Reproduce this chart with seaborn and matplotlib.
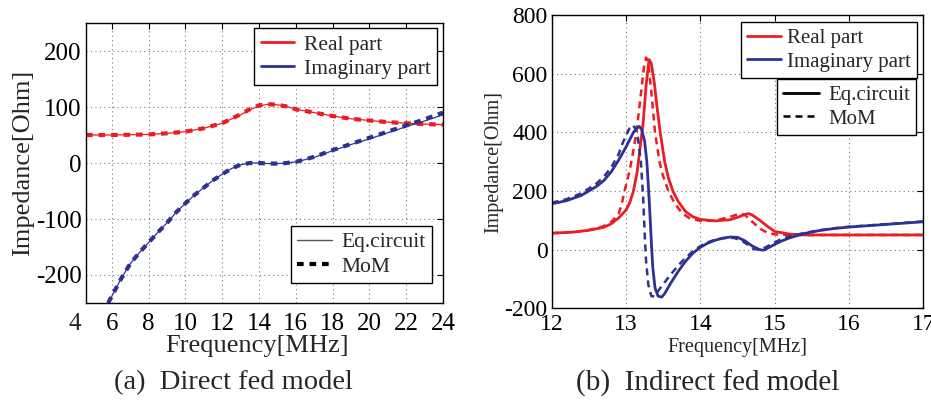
import numpy as np
import pandas as pd
import matplotlib
matplotlib.use("Agg")
import matplotlib.pyplot as plt
from matplotlib.lines import Line2D
import seaborn as sns

# (a) direct fed model
a_real_f = [4.6, 6, 7, 8, 9, 10, 11, 12, 13, 13.5, 14, 14.5, 15, 15.5, 16, 17, 18, 19, 20, 21, 22, 23, 24]
a_real_eq = [50, 50, 50.5, 51, 53, 56, 62, 71, 86, 95, 102, 105, 104, 101, 96, 90, 84, 79, 76, 73, 71, 69.5, 68.5]
a_real_mom = [50, 50, 50.5, 51, 53, 56, 62, 71, 87, 96, 103, 105, 104, 101, 96, 90, 84, 79, 76, 73, 71, 69.5, 68.5]
a_imag_f = [5.8, 6, 6.5, 7, 7.5, 8, 8.5, 9, 9.5, 10, 10.5, 11, 11.5, 12, 12.5, 13, 13.5,
            14, 14.5, 15, 15.5, 16, 17, 18, 19, 20, 21, 22, 23, 24]
a_imag_eq = [-250, -238, -207, -180, -160, -142, -124, -107, -88, -72, -57, -44, -31, -20, -10, -3, 0,
             0, -1, -1, 0, 2, 10, 22, 33, 43, 54, 65, 75, 86]
a_imag_mom = [-250, -238, -207, -180, -160, -142, -124, -107, -88, -72, -57, -44, -31, -20, -10, -3, 0,
              0, -1, -1, 0, 2, 11, 23, 34, 45, 56, 67, 78, 90]

# (b) indirect fed model
b_real_eq_f = [12, 12.3, 12.5, 12.7, 12.8, 12.9, 13.0, 13.05, 13.1, 13.15, 13.2, 13.23, 13.27, 13.31,
               13.34, 13.38, 13.42, 13.46, 13.52, 13.57, 13.63, 13.7, 13.8, 13.9, 14.0, 14.2, 14.4,
               14.5, 14.6, 14.65, 14.7, 14.8, 14.9, 15.0, 15.2, 15.4, 16, 17]
b_real_eq = [56, 60, 66, 76, 88, 108, 135, 160, 200, 265, 370, 430, 560, 648,
             635, 570, 480, 400, 300, 245, 200, 165, 130, 112, 103, 98, 102,
             110, 120, 123, 118, 100, 80, 62, 53, 50, 50, 50]
b_real_mom_f = [12, 12.3, 12.5, 12.7, 12.8, 12.9, 12.95, 12.98, 13.05, 13.1, 13.14, 13.2, 13.24, 13.27,
                13.3, 13.34, 13.39, 13.45, 13.5, 13.57, 13.65, 13.75, 13.85, 14.0, 14.2, 14.4,
                14.5, 14.55, 14.6, 14.7, 14.8, 14.9, 15.0, 15.2, 15.4, 16, 17]
b_real_mom = [56, 60, 67, 80, 95, 120, 165, 200, 270, 340, 400, 530, 620, 655,
              635, 540, 400, 300, 250, 200, 160, 125, 108, 98, 99, 112,
              120, 123, 118, 95, 72, 58, 52, 50, 50, 50, 50]
b_imag_eq_f = [12, 12.2, 12.4, 12.6, 12.7, 12.8, 12.9, 13.0, 13.05, 13.1, 13.15, 13.18, 13.21, 13.25,
               13.28, 13.3, 13.32, 13.34, 13.36, 13.39, 13.43, 13.48, 13.52, 13.6, 13.7, 13.8, 13.9,
               14.0, 14.1, 14.2, 14.3, 14.4, 14.5, 14.6, 14.7, 14.8, 14.85, 14.9, 15.0, 15.1, 15.2,
               15.4, 15.6, 15.8, 16, 16.5, 17]
b_imag_eq = [156, 167, 185, 215, 235, 265, 305, 350, 375, 400, 415, 420, 410, 370,
             300, 220, 130, 30, -60, -130, -158, -162, -150, -115, -75, -40, -12,
             8, 22, 32, 39, 43, 42, 30, 12, 0, -2, 4, 18, 30, 40,
             55, 65, 72, 77, 86, 95]
b_imag_mom_f = [12, 12.2, 12.4, 12.6, 12.7, 12.8, 12.9, 12.95, 13.0, 13.05, 13.09, 13.12, 13.16, 13.2,
                13.23, 13.25, 13.27, 13.3, 13.34, 13.38, 13.42, 13.5, 13.6, 13.7, 13.8, 13.9,
                14.0, 14.1, 14.2, 14.3, 14.45, 14.55, 14.65, 14.72, 14.8, 14.88, 15.0, 15.1, 15.2,
                15.4, 15.6, 15.8, 16, 16.5, 17]
b_imag_mom = [160, 172, 192, 225, 248, 280, 325, 360, 390, 415, 425, 415, 380, 300,
              180, 60, -40, -120, -158, -160, -145, -118, -85, -55, -28, -6,
              12, 25, 34, 39, 40, 32, 15, 2, 0, 8, 25, 37, 45,
              57, 66, 73, 78, 87, 96]

RED = "#ec1c24"
BLUE = "#2e3192"
SERIF = ["Liberation Serif", "DejaVu Serif"]

sns.set_style("white")
plt.rcParams["font.family"] = SERIF
plt.rcParams["axes.unicode_minus"] = False

fig = plt.figure(figsize=(9.31, 4.01), dpi=100)
ax1 = fig.add_axes([0.0924, 0.2444, 0.3834, 0.6982])
ax2 = fig.add_axes([0.5926, 0.2312, 0.3991, 0.7314])


def style_axes(ax, fs, xpad, ypad):
    ax.grid(True, linestyle=(0, (1, 3)), color="#777777", linewidth=0.8)
    ax.tick_params(direction="in", length=4, width=0.8, top=True, right=True,
                   labelsize=fs, colors="black")
    ax.tick_params(axis="x", pad=xpad)
    ax.tick_params(axis="y", pad=ypad)
    for s in ax.spines.values():
        s.set_color("black")
        s.set_linewidth(1.0)


def make_legend(ax, handles, labels, loc, anchor, fs, hl, htp):
    leg = ax.legend(handles, labels, loc=loc, bbox_to_anchor=anchor,
                    bbox_transform=fig.transFigure, fontsize=fs, frameon=True,
                    fancybox=False, edgecolor="black", framealpha=1,
                    handlelength=hl, handletextpad=htp, borderpad=0.3,
                    labelspacing=0.2, borderaxespad=0)
    leg.get_frame().set_linewidth(1.0)
    return leg


# ---- panel (a)
thin = dict(lw=0.9, linestyle="-")
thick = dict(lw=3.0, linestyle=(0, (1.6, 1.4)))
sns.lineplot(x=a_real_f, y=a_real_eq, color=RED, ax=ax1, **thin)
sns.lineplot(x=a_real_f, y=a_real_mom, color=RED, ax=ax1, **thick)
sns.lineplot(x=a_imag_f, y=a_imag_eq, color=BLUE, ax=ax1, **thin)
sns.lineplot(x=a_imag_f, y=a_imag_mom, color=BLUE, ax=ax1, **thick)
ax1.set_xlim(4.6, 24)
ax1.set_ylim(-250, 250)
ax1.set_xticks(range(6, 25, 2))
ax1.set_yticks([-200, -100, 0, 100, 200])
style_axes(ax1, 18, 7, 3)
ax1.text(4, -0.037, "4", transform=ax1.get_xaxis_transform(), ha="center", va="top",
         fontsize=18, clip_on=False)
ax1.set_xlabel("Frequency[MHz]", fontsize=19)
ax1.set_ylabel("Impedance[Ohm]", fontsize=19)
ax1.xaxis.set_label_coords(0.48, -0.115)
ax1.yaxis.set_label_coords(-0.145, 0.5)

h_parts = [Line2D([], [], color=RED, lw=2), Line2D([], [], color=BLUE, lw=2)]
leg1 = make_legend(ax1, h_parts, ["Real part", "Imaginary part"], "upper right",
                   (0.4694, 0.930), 15.5, 1.55, 0.45)
ax1.add_artist(leg1)
h_meth = [Line2D([], [], color="#555555", lw=1.0),
          Line2D([], [], color="black", lw=3.0, linestyle=(0, (1.6, 1.4)))]
make_legend(ax1, h_meth, ["Eq.circuit", "MoM"], "lower right",
            (0.464, 0.294), 15.5, 1.6, 0.45)

# ---- panel (b)
solid = dict(lw=2.0, linestyle="-")
dash = dict(lw=1.8, linestyle=(0, (2.8, 2.0)))
sns.lineplot(x=b_real_eq_f, y=b_real_eq, color=RED, ax=ax2, **solid)
sns.lineplot(x=b_real_mom_f, y=b_real_mom, color=RED, ax=ax2, **dash)
sns.lineplot(x=b_imag_eq_f, y=b_imag_eq, color=BLUE, ax=ax2, **solid)
sns.lineplot(x=b_imag_mom_f, y=b_imag_mom, color=BLUE, ax=ax2, **dash)
ax2.set_xlim(12, 17)
ax2.set_ylim(-200, 800)
ax2.set_xticks(range(12, 18))
ax2.set_yticks(range(-200, 801, 200))
style_axes(ax2, 17, 4, 3)
ax2.set_xlabel("Frequency[MHz]", fontsize=14.5)
ax2.set_ylabel("Impedance[Ohm]", fontsize=14.5)
ax2.xaxis.set_label_coords(0.5, -0.1)
ax2.yaxis.set_label_coords(-0.13, 0.5)

leg3 = make_legend(ax2, h_parts, ["Real part", "Imaginary part"], "upper right",
                   (0.985, 0.945), 15, 1.6, 0.3)
ax2.add_artist(leg3)
h_meth2 = [Line2D([], [], color="black", lw=2.0),
           Line2D([], [], color="black", lw=1.8, linestyle=(0, (2.8, 2.0)))]
make_legend(ax2, h_meth2, ["Eq.circuit", "MoM"], "upper right",
            (0.984, 0.803), 15, 1.7, 0.45)

fig.text(233 / 931, 1 - 383 / 401, "(a)  Direct fed model", ha="center", va="center", fontsize=20.5)
fig.text(708 / 931, 1 - 383 / 401, "(b)  Indirect fed model", ha="center", va="center", fontsize=21)

fig.savefig("out.png", dpi=100)
